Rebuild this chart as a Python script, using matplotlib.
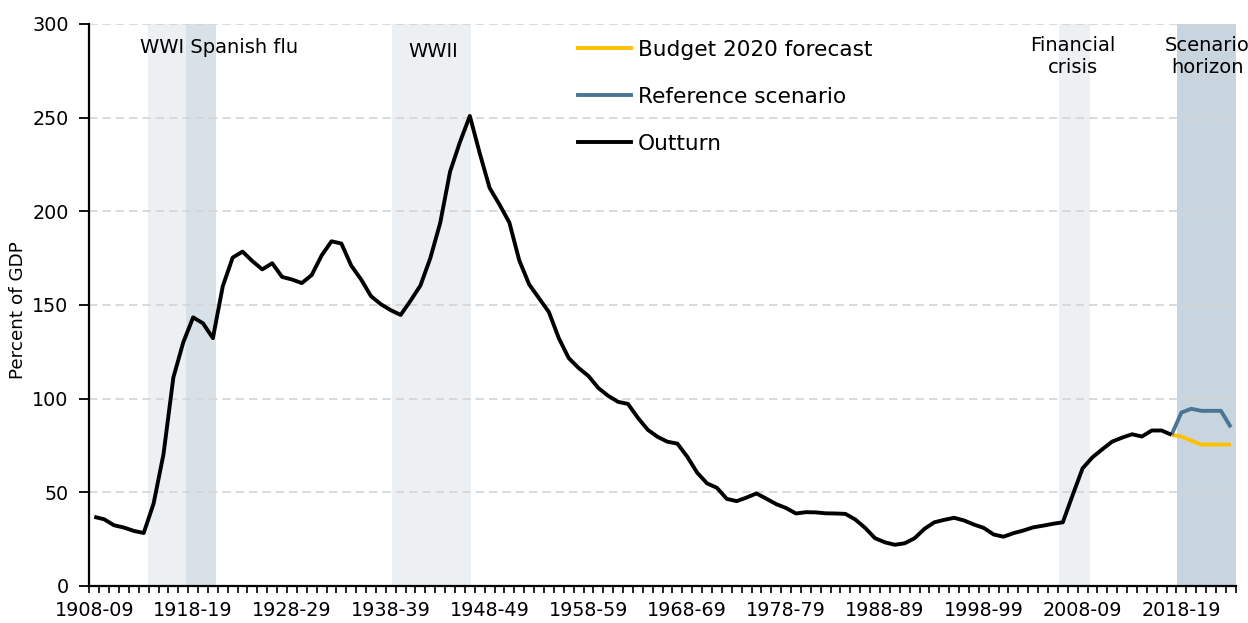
import matplotlib
matplotlib.use("Agg")
import numpy as np
import matplotlib.pyplot as plt
from matplotlib.lines import Line2D

# fiscal years on the category axis
years = ["{}-{:02d}".format(y, (y + 1) % 100) for y in range(1908, 2024)]

# public sector net debt, percent of GDP
outturn = [
    36.9, 35.6, 32.4, 31.2, 29.4, 28.3, 44.0, 70.3, 111.3, 130.0,
    143.4, 140.2, 132.3, 160.0, 175.3, 178.5, 173.4, 169.0, 172.3, 165.0,
    163.6, 161.7, 166.0, 176.4, 184.0, 182.8, 171.0, 163.6, 154.7, 150.4,
    147.2, 144.7, 152.3, 160.4, 175.0, 193.8, 221.2, 237.0, 250.9, 231.0,
    212.5, 203.6, 194.0, 173.8, 161.0, 153.6, 146.2, 132.3, 121.7, 116.4,
    112.1, 105.7, 101.5, 98.3, 97.2, 89.8, 83.4, 79.6, 77.0, 76.0,
    69.0, 60.5, 54.8, 52.4, 46.5, 45.3, 47.2, 49.4, 46.6, 43.7,
    41.6, 38.7, 39.4, 39.3, 38.8, 38.7, 38.5, 35.5, 31.0, 25.5,
    23.3, 22.0, 22.8, 25.5, 30.5, 34.0, 35.3, 36.4, 35.0, 32.8,
    31.0, 27.5, 26.3, 28.2, 29.6, 31.3, 32.2, 33.2, 34.0, 48.6,
    62.8, 68.7, 73.0, 77.1, 79.2, 81.0, 79.8, 83.0, 83.0, 80.7,
]
budget_2020 = [80.7, 79.8, 77.6, 75.5, 75.5, 75.5, 75.5]
reference = [80.7, 92.6, 94.6, 93.5, 93.5, 93.5, 84.7]

# shaded periods, in category units (start, end)
period_names = ["WWI", "Spanish flu", "WWII", "Financial crisis", "Scenario horizon"]
period_spans = [(5.45, 9.3), (9.3, 12.3), (30.15, 38.15), (97.65, 100.7), (109.6, 115.5)]
period_colors = ["#ECF0F3", "#D9E1E8", "#ECF0F3", "#ECF0F3", "#C8D5DF"]

BLACK = "#000000"
GOLD = "#FFC000"
BLUE = "#4A7593"

plt.rcParams['font.family'] = ['DejaVu Sans']

fig = plt.figure(figsize=(12.48, 6.23), dpi=100)
ax = fig.add_axes([0.0716, 0.0594, 0.9186, 0.9021])

for (x0, x1), col in zip(period_spans, period_colors):
    ax.axvspan(x0, x1, color=col, lw=0, zorder=0)

x_out = np.arange(len(outturn))
start = len(outturn) - 1
x_fc = np.arange(start, start + len(budget_2020))

ax.plot(x_fc, budget_2020, color=GOLD, lw=2.8, solid_capstyle='butt', zorder=3)
ax.plot(x_fc, reference, color=BLUE, lw=2.8, solid_capstyle='butt', zorder=3)
ax.plot(x_out, outturn, color=BLACK, lw=2.8, solid_capstyle='butt', zorder=4)

ax.set_xlim(-0.5, len(years) - 0.5)
ax.set_ylim(0, 300)

ax.set_yticks(np.arange(0, 301, 50))
ax.yaxis.grid(True, color="#D4D4D4", lw=1.2, linestyle=(0, (5, 3)))
ax.set_axisbelow(True)

label_idx = list(range(0, len(years), 10))
ax.set_xticks(label_idx)
ax.set_xticklabels([years[i] for i in label_idx])
ax.set_xticks(np.arange(-0.5, len(years)), minor=True)
ax.tick_params(axis='x', which='major', length=0, pad=11, labelsize=13.8)
ax.tick_params(axis='x', which='minor', length=5, width=1.2, direction='out')
ax.tick_params(axis='y', length=7, width=1.3, direction='out', pad=8,
               labelsize=13.8)

for side in ['top', 'right']:
    ax.spines[side].set_visible(False)
for side in ['left', 'bottom']:
    ax.spines[side].set_linewidth(1.6)
    ax.spines[side].set_color(BLACK)

ax.set_ylabel("Percent of GDP", fontsize=13.2)
ax.yaxis.set_label_coords(-0.0545, 0.49)

ax.text(4.63, 287.4, "WWI Spanish flu", ha='left', va='center', fontsize=14)
ax.text(34.3, 285.3, "WWII", ha='center', va='center', fontsize=14)
ax.text(99.0, 282.6, "Financial\ncrisis", ha='center', va='center',
        fontsize=14, linespacing=1.25)
ax.text(112.6, 282.6, "Scenario\nhorizon", ha='center', va='center',
        fontsize=14, linespacing=1.25)

handles = [
    Line2D([], [], color=GOLD, lw=2.8),
    Line2D([], [], color=BLUE, lw=2.8),
    Line2D([], [], color=BLACK, lw=2.8),
]
ax.legend(handles, ["Budget 2020 forecast", "Reference scenario", "Outturn"],
          loc='upper left', bbox_to_anchor=(0.4263, 0.972), frameon=False,
          fontsize=15.6, handlelength=2.45, handletextpad=0.3,
          labelspacing=1.25, borderaxespad=0, borderpad=0)

fig.savefig("out.png", dpi=100)
